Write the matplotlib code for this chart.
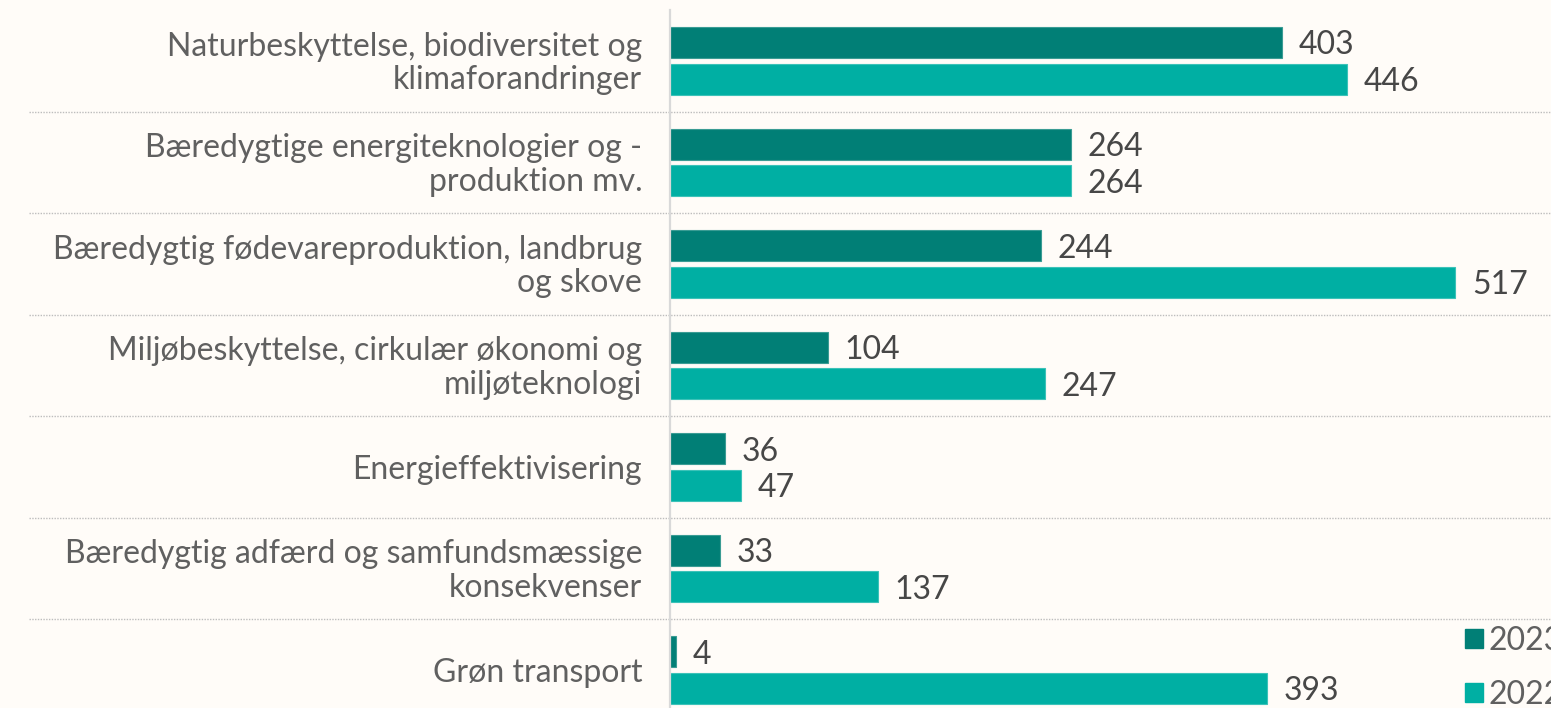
import numpy as np
import matplotlib
matplotlib.use("Agg")
import matplotlib.pyplot as plt
from matplotlib.patches import Patch

plt.rcParams["font.family"] = ["Lato", "DejaVu Sans"]

kategorier = [
    "Naturbeskyttelse, biodiversitet og\nklimaforandringer",
    "Bæredygtige energiteknologier og -\nproduktion mv.",
    "Bæredygtig fødevareproduktion, landbrug\nog skove",
    "Miljøbeskyttelse, cirkulær økonomi og\nmiljøteknologi",
    "Energieffektivisering",
    "Bæredygtig adfærd og samfundsmæssige\nkonsekvenser",
    "Grøn transport",
]
vaerdier_2023 = [403, 264, 244, 104, 36, 33, 4]
vaerdier_2022 = [446, 264, 517, 247, 47, 137, 393]
serier = ["2023", "2022"]

BAGGRUND = "#FFFCF8"
FARVE_2023 = "#017F76"
FARVE_2022 = "#00AFA3"
TEKST = "#606060"
TAL = "#474747"

W, H = 1551, 708
fig = plt.figure(figsize=(W / 100, H / 100), dpi=100)
fig.patch.set_facecolor(BAGGRUND)

# akse fra x=670 px til hoejre kant, top ved 10 px, bund ved billedkant
ax = fig.add_axes([670 / W, 0, (W - 670) / W, (H - 10) / H])
ax.set_facecolor(BAGGRUND)

y = np.arange(len(kategorier))
hoejde = 0.305
forskyd = 0.18

b1 = ax.barh(y - forskyd, vaerdier_2023, height=hoejde, color=FARVE_2023,
             edgecolor="#3A9C94", linewidth=0.8)
b2 = ax.barh(y + forskyd, vaerdier_2022, height=hoejde, color=FARVE_2022,
             edgecolor="#3CC2B8", linewidth=0.8)

for bars in (b1, b2):
    for rect in bars:
        v = rect.get_width()
        ax.annotate(f"{v:.0f}", (v, rect.get_y() + rect.get_height() / 2),
                    xytext=(12, 0), textcoords="offset points",
                    ha="left", va="center_baseline", fontsize=23, color=TAL)

ax.set_xlim(0, (W - 670) / 1.5186)
ax.set_ylim(6.374, -0.5)

# kategorinavne
for i, navn in enumerate(kategorier):
    ax.annotate(navn, (0, i), xytext=(-20, -2), textcoords="offset points",
                ha="right", va="center", fontsize=23, color=TEKST,
                linespacing=1.15, annotation_clip=False)

# stiplede skillelinjer mellem grupperne
trans = ax.get_yaxis_transform()
for s in np.arange(0.5, len(kategorier) - 0.5, 1):
    ax.plot([-0.728, 1.0], [s, s], transform=trans, color="#BDBDBD",
            linestyle=(0, (1, 1)), linewidth=1.0, clip_on=False, zorder=0)

for side in ["top", "right", "bottom"]:
    ax.spines[side].set_visible(False)
ax.spines["left"].set_color("#D9D9D9")
ax.spines["left"].set_linewidth(1.6)
ax.set_xticks([])
ax.set_yticks([])

haandtag = [Patch(color=FARVE_2023), Patch(color=FARVE_2022)]
fig.legend(haandtag, serier, loc="upper left",
           bbox_to_anchor=(1465 / W, 1 - 626 / H), frameon=False,
           fontsize=23, labelcolor=TEKST, handlelength=0.55, handleheight=0.55,
           handletextpad=0.2, labelspacing=0.75, borderaxespad=0, borderpad=0)

fig.savefig("out.png", dpi=100, facecolor=BAGGRUND)
